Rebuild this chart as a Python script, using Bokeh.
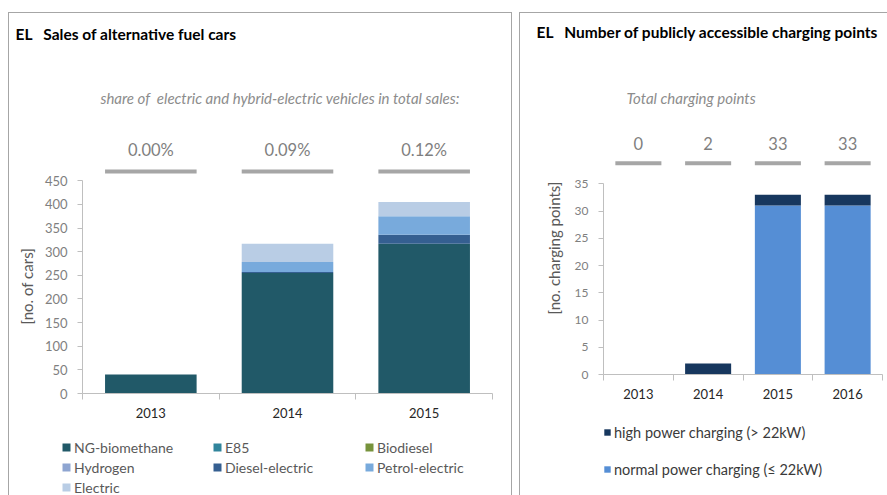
import numpy as np
from bokeh.plotting import figure
from bokeh.models import (ColumnDataSource, Range1d, FixedTicker, Legend,
                          LegendItem, Spacer, Title)
from bokeh.layouts import row, column
from bokeh.embed import file_html
from bokeh.resources import INLINE
from bokeh.core.properties import value

# ---------------- data: sales of alternative fuel cars ----------------
sales_years = ["2013", "2014", "2015"]
ng_biomethane = [40, 255, 317]
e85 = [0, 0, 0]
biodiesel = [0, 0, 0]
hydrogen = [0, 0, 0]
diesel_electric = [0, 2, 19]
petrol_electric = [0, 21, 39]
electric = [0, 39, 30]
share_labels = ["0.00%", "0.09%", "0.12%"]
sales_series = ["NG-biomethane", "E85", "Biodiesel", "Hydrogen",
                "Diesel-electric", "Petrol-electric", "Electric"]
sales_colors = ["#215968", "#31859C", "#77933C", "#8EA5D1",
                "#355F91", "#78AADC", "#B9CDE5"]
sales_ticks = [0, 50, 100, 150, 200, 250, 300, 350, 400, 450]

# ---------------- data: charging points ----------------
cp_years = ["2013", "2014", "2015", "2016"]
normal_power = [0, 0, 31, 31]
high_power = [0, 2, 2, 2]
cp_series = ["normal power charging (\u2264 22kW)", "high power charging (> 22kW)"]
cp_colors = ["#558ED5", "#17375E"]
cp_ticks = [0, 5, 10, 15, 20, 25, 30, 35]

FONT = "Lato"
AXIS_GREY = "#BFBFBF"
TICK_GREY = "#7F7F7F"
BORDER = "#A6A6A6"
NB = "\u00a0"
B = f"1px solid {BORDER}"


def style_axes(p, ncat, labels, yticks, ytick_size):
    centers = [i + 0.5 for i in range(ncat)]
    xa = p.xaxis[0]
    xa.ticker = FixedTicker(ticks=centers, minor_ticks=list(range(ncat + 1)))
    xa.major_label_overrides = {c: l for c, l in zip(centers, labels)}
    xa.major_tick_in = 0
    xa.major_tick_out = 0
    xa.minor_tick_in = 0
    xa.minor_tick_out = 6
    xa.minor_tick_line_color = AXIS_GREY
    xa.axis_line_color = AXIS_GREY
    xa.major_label_text_font = FONT
    xa.major_label_text_font_size = "13px"
    xa.major_label_text_color = "#262626"
    xa.major_label_standoff = 8
    ya = p.yaxis[0]
    ya.ticker = FixedTicker(ticks=yticks)
    ya.bounds = (yticks[0], yticks[-1])
    ya.axis_line_color = AXIS_GREY
    ya.major_tick_line_color = AXIS_GREY
    ya.major_tick_in = 0
    ya.major_tick_out = 5
    ya.minor_tick_line_color = None
    ya.major_label_text_font = FONT
    ya.major_label_text_font_size = ytick_size
    ya.major_label_text_color = TICK_GREY
    ya.major_label_standoff = 10
    p.xgrid.grid_line_color = None
    p.ygrid.grid_line_color = None
    p.outline_line_color = None
    return centers


def style_title(p, text, offset):
    p.title.text = text
    p.title.align = "left"
    p.title.offset = offset
    p.title.standoff = 10
    p.title.text_font = FONT
    p.title.text_font_size = "15.5px"
    p.title.text_font_style = "bold"
    p.title.text_color = "#000000"


def bare_figure(width, height, styles, left=0, top=0):
    f = figure(width=width, height=height, x_range=Range1d(0, 1), y_range=Range1d(0, 1),
               output_backend="svg", toolbar_location=None, title=None,
               x_axis_location=None, y_axis_location=None, styles=styles,
               min_border_left=left, min_border_top=top,
               min_border_right=0, min_border_bottom=0)
    f.outline_line_color = None
    f.xgrid.grid_line_color = None
    f.ygrid.grid_line_color = None
    return f


def legend_figure(width, height, names, colors, styles, left, top, **legend_kw):
    lf = bare_figure(width, height, styles, left=left, top=top)
    items = []
    for name, col in zip(names, colors):
        r = lf.rect(x=[-9], y=[-9], width=1, height=1, fill_color=col, line_color=None)
        items.append(LegendItem(label=name, renderers=[r]))
    leg = Legend(items=items, location="top_left", orientation="vertical",
                 padding=0, margin=0, border_line_color=None, background_fill_alpha=0,
                 label_text_font=FONT, **legend_kw)
    lf.add_layout(leg)
    return lf


# ======================= left panel =======================
p1 = figure(width=504, height=418, x_range=Range1d(0, 3), y_range=Range1d(0, 732),
            output_backend="svg", toolbar_location=None,
            min_border_left=70, min_border_right=21, min_border_top=34,
            min_border_bottom=38,
            styles={"border-left": B, "border-top": B, "border-right": B,
                    "box-sizing": "border-box"})
xc1 = style_axes(p1, len(sales_years), sales_years, sales_ticks, "13px")
style_title(p1, f"EL{NB * 3}Sales of alternative fuel cars", -67)

src1 = ColumnDataSource(dict(x=xc1, **dict(zip(sales_series, [
    ng_biomethane, e85, biodiesel, hydrogen, diesel_electric, petrol_electric, electric]))))
p1.vbar_stack(sales_series, x="x", width=0.67, source=src1,
              fill_color=sales_colors, line_color=None)

p1.rect(x=xc1, y=[469.6] * len(xc1), width=0.67, height=4, height_units="screen",
        fill_color="#A6A6A6", line_color=None)
p1.text(x=xc1, y=[516] * len(xc1), text=share_labels, text_align="center",
        text_baseline="middle", text_font=value(FONT), text_font_size="16.5px",
        text_color=TICK_GREY)
p1.text(x=[0.131], y=[626],
        text=[f"share of {NB}electric and hybrid-electric vehicles in total sales:"],
        text_align="left", text_baseline="middle", text_font=value(FONT),
        text_font_size="15px", text_font_style="italic", text_color="#8C8C8C")

p1.add_layout(Title(text="[no. of cars]", align="left", offset=69, standoff=12,
                    text_font=FONT, text_font_size="15px", text_font_style="normal",
                    text_color="#595959"), "left")

# legend of the left panel: three columns, filled row by row
leg_kw = dict(glyph_width=10, glyph_height=10, label_standoff=3, label_height=18,
              spacing=2, label_text_font_size="14px", label_text_color="#595959")
cols_idx = [[0, 3, 6], [1, 4], [2, 5]]
l1a = legend_figure(204, 65, [sales_series[i] for i in cols_idx[0]],
                    [sales_colors[i] for i in cols_idx[0]],
                    {"border-left": B, "box-sizing": "border-box"}, 52, 8, **leg_kw)
l1b = legend_figure(152, 65, [sales_series[i] for i in cols_idx[1]],
                    [sales_colors[i] for i in cols_idx[1]], {}, 0, 8, **leg_kw)
l1c = legend_figure(148, 65, [sales_series[i] for i in cols_idx[2]],
                    [sales_colors[i] for i in cols_idx[2]],
                    {"border-right": B, "box-sizing": "border-box"}, 0, 8, **leg_kw)

# ======================= right panel =======================
p2 = figure(width=368, height=398, x_range=Range1d(0, 4), y_range=Range1d(0, 60.38),
            output_backend="svg", toolbar_location=None,
            min_border_left=75, min_border_right=6, min_border_top=32,
            min_border_bottom=37,
            styles={"border-left": B, "border-top": B, "box-sizing": "border-box"})
xc2 = style_axes(p2, len(cp_years), cp_years, cp_ticks, "12px")
style_title(p2, f"EL{NB * 3}Number of publicly accessible charging points", -67)

src2 = ColumnDataSource(dict(x=xc2, normal=normal_power, high=high_power))
p2.vbar_stack(["normal", "high"], x="x", width=0.66, source=src2,
              fill_color=cp_colors, line_color=None)

totals = [str(n + h) for n, h in zip(normal_power, high_power)]
p2.rect(x=xc2, y=[38.78] * len(xc2), width=0.66, height=4, height_units="screen",
        fill_color="#A6A6A6", line_color=None)
p2.text(x=xc2, y=[42.4] * len(xc2), text=totals, text_align="center",
        text_baseline="middle", text_font=value(FONT), text_font_size="16.5px",
        text_color=TICK_GREY)
p2.text(x=[0.33], y=[50.8], text=["Total charging points"], text_align="left",
        text_baseline="middle", text_font=value(FONT), text_font_size="15px",
        text_font_style="italic", text_color="#8C8C8C")

p2.add_layout(Title(text="[no. charging points]", align="left", offset=60, standoff=18,
                    text_font=FONT, text_font_size="15px", text_font_style="normal",
                    text_color="#595959"), "left")

l2 = legend_figure(368, 85, [cp_series[1], cp_series[0]], [cp_colors[1], cp_colors[0]],
                   {"border-left": B, "box-sizing": "border-box"}, 83, 13,
                   glyph_width=8, glyph_height=8, label_standoff=3,
                   label_height=18, spacing=19, label_text_font_size="14.5px",
                   label_text_color="#3A3A3A")

layout = row(Spacer(width=8),
             column(Spacer(height=12), p1, row(l1a, l1b, l1c)),
             Spacer(width=7),
             column(Spacer(height=12), p2, l2))
open("out.html", "w").write(file_html(layout, INLINE))
